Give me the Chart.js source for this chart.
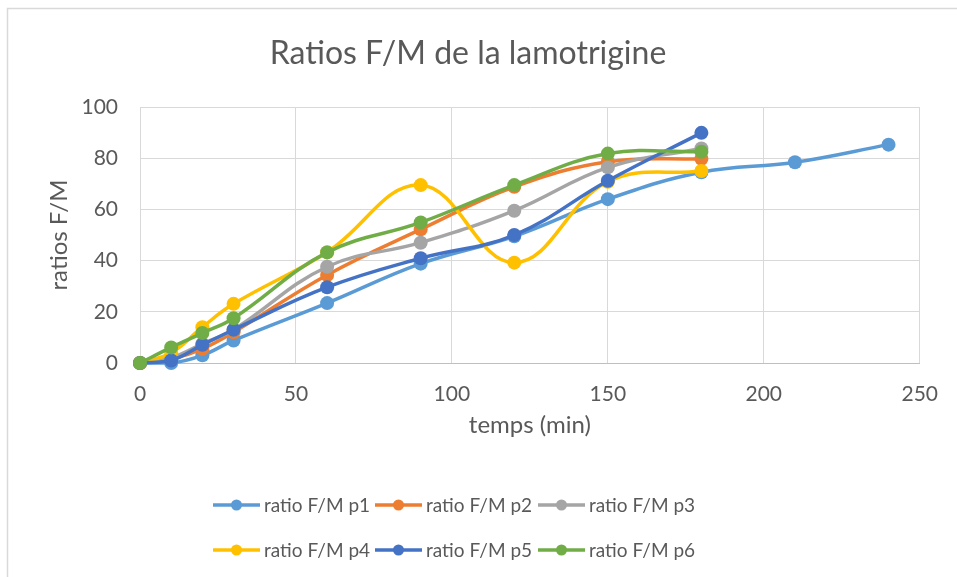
<!DOCTYPE html>
<html lang="fr">
<head>
<meta charset="utf-8">
<title>Ratios F/M de la lamotrigine</title>
<script src="https://cdn.jsdelivr.net/npm/chart.js@4"></script>
<style>
  html, body { margin: 0; padding: 0; background: #fff; }
  #wrap { width: 957px; height: 577px; }
</style>
</head>
<body>
<div id="wrap"><canvas id="grafico" width="957" height="577"></canvas></div>
<script>
// temps de prélèvement (min)
const temps = [0, 10, 20, 30, 60, 90, 120, 150, 180];
const tempsP1 = [0, 10, 20, 30, 60, 90, 120, 150, 180, 210, 240];

// ratios F/M
const ratioP1 = [0, 0, 3, 8.8, 23.4, 38.8, 49.5, 64, 74.5, 78.4, 85.3];
const ratioP2 = [0, 1.5, 5.5, 12, 34.4, 52.2, 68.8, 78.6, 79.8];
const ratioP3 = [0, 2, 7.5, 13, 37.6, 47, 59.5, 76.4, 83.8];
const ratioP4 = [0, 4, 14, 23.1, 43.3, 69.5, 39.2, 70.8, 75];
const ratioP5 = [0, 1, 7.1, 13, 29.6, 40.9, 50, 71.2, 89.9];
const ratioP6 = [0, 6.1, 11.7, 17.5, 43.2, 54.9, 69.5, 81.8, 82.5];

const nomsSeries = ['ratio F/M p1', 'ratio F/M p2', 'ratio F/M p3',
                    'ratio F/M p4', 'ratio F/M p5', 'ratio F/M p6'];
const couleurs = ['#5B9BD5', '#ED7D31', '#A5A5A5', '#FFC000', '#4472C4', '#70AD47'];

const ticksX = [0, 50, 100, 150, 200, 250];
const ticksY = [0, 20, 40, 60, 80, 100];

const titre = 'Ratios F/M de la lamotrigine';
const titreX = 'temps (min)';
const titreY = 'ratios F/M';

const police = 'Lato, "Open Sans", sans-serif';
const gris = '#595959';

Chart.defaults.font.family = police;
Chart.defaults.color = gris;

function points(xs, ys) {
    return ys.map((y, i) => ({ x: xs[i], y: y }));
}

const series = [
    points(tempsP1, ratioP1),
    points(temps, ratioP2),
    points(temps, ratioP3),
    points(temps, ratioP4),
    points(temps, ratioP5),
    points(temps, ratioP6)
];

// cadre, titre et légende dessinés à la main (comme Excel)
const habillage = {
    id: 'habillage',
    beforeDraw(chart) {
        const ctx = chart.ctx;
        ctx.save();
        ctx.fillStyle = '#ffffff';
        ctx.fillRect(0, 0, chart.width, chart.height);
        ctx.strokeStyle = '#d9d9d9';
        ctx.lineWidth = 1.5;
        ctx.strokeRect(7.5, 8.5, chart.width + 20, chart.height + 20);
        ctx.restore();
    },
    afterDraw(chart) {
        const ctx = chart.ctx;
        ctx.save();
        ctx.fillStyle = gris;
        ctx.textAlign = 'center';
        ctx.textBaseline = 'alphabetic';
        ctx.font = '32px ' + police;
        ctx.fillText(titre, 468, 64);

        const colonnes = [213, 375, 538];
        const lignes = [505, 550];
        ctx.textAlign = 'left';
        ctx.font = '19px ' + police;
        nomsSeries.forEach((nom, i) => {
            const x0 = colonnes[i % 3];
            const y0 = lignes[Math.floor(i / 3)];
            ctx.strokeStyle = couleurs[i];
            ctx.lineWidth = 3.5;
            ctx.beginPath();
            ctx.moveTo(x0, y0);
            ctx.lineTo(x0 + 47, y0);
            ctx.stroke();
            ctx.fillStyle = couleurs[i];
            ctx.beginPath();
            ctx.arc(x0 + 23.5, y0, 5.5, 0, Math.PI * 2);
            ctx.fill();
            ctx.fillStyle = gris;
            ctx.fillText(nom, x0 + 51, y0 + 7);
        });
        ctx.restore();
    }
};

const config = {
    type: 'line',
    data: {
        datasets: series.map((data, i) => ({
            label: nomsSeries[i],
            data: data,
            borderColor: couleurs[i],
            backgroundColor: couleurs[i],
            borderWidth: 3.5,
            pointRadius: 7,
            pointBorderWidth: 0,
            pointHoverRadius: 7,
            tension: 0.4,
            fill: false,
            clip: false,
            order: 5 - i // p6 au-dessus, comme dans Excel
        }))
    },
    options: {
        responsive: false,
        animation: false,
        layout: {
            padding: { top: 107, left: 0, right: 37, bottom: 114 }
        },
        plugins: {
            legend: { display: false },
            title: { display: false },
            tooltip: { enabled: false }
        },
        scales: {
            x: {
                type: 'linear',
                min: ticksX[0],
                max: ticksX[ticksX.length - 1],
                afterFit: s => { s.height = 100; },
                ticks: { stepSize: 50, padding: 19, font: { size: 21 }, color: gris },
                grid: { color: '#d9d9d9', lineWidth: 1, drawTicks: false },
                border: { color: '#bfbfbf', width: 1 },
                title: {
                    display: true,
                    text: titreX,
                    font: { size: 24 },
                    color: gris,
                    padding: { top: 0, bottom: 23 }
                }
            },
            y: {
                min: ticksY[0],
                max: ticksY[ticksY.length - 1],
                afterFit: s => { s.width = 140; },
                ticks: { stepSize: 20, padding: 22, font: { size: 21 }, color: gris },
                grid: { color: '#d9d9d9', lineWidth: 1, drawTicks: false },
                border: { color: '#d9d9d9', width: 1 },
                title: {
                    display: true,
                    text: titreY,
                    font: { size: 24 },
                    color: gris,
                    padding: { top: 45, bottom: 0 }
                }
            }
        }
    },
    plugins: [habillage]
};

new Chart(document.getElementById('grafico'), config);
</script>
</body>
</html>
